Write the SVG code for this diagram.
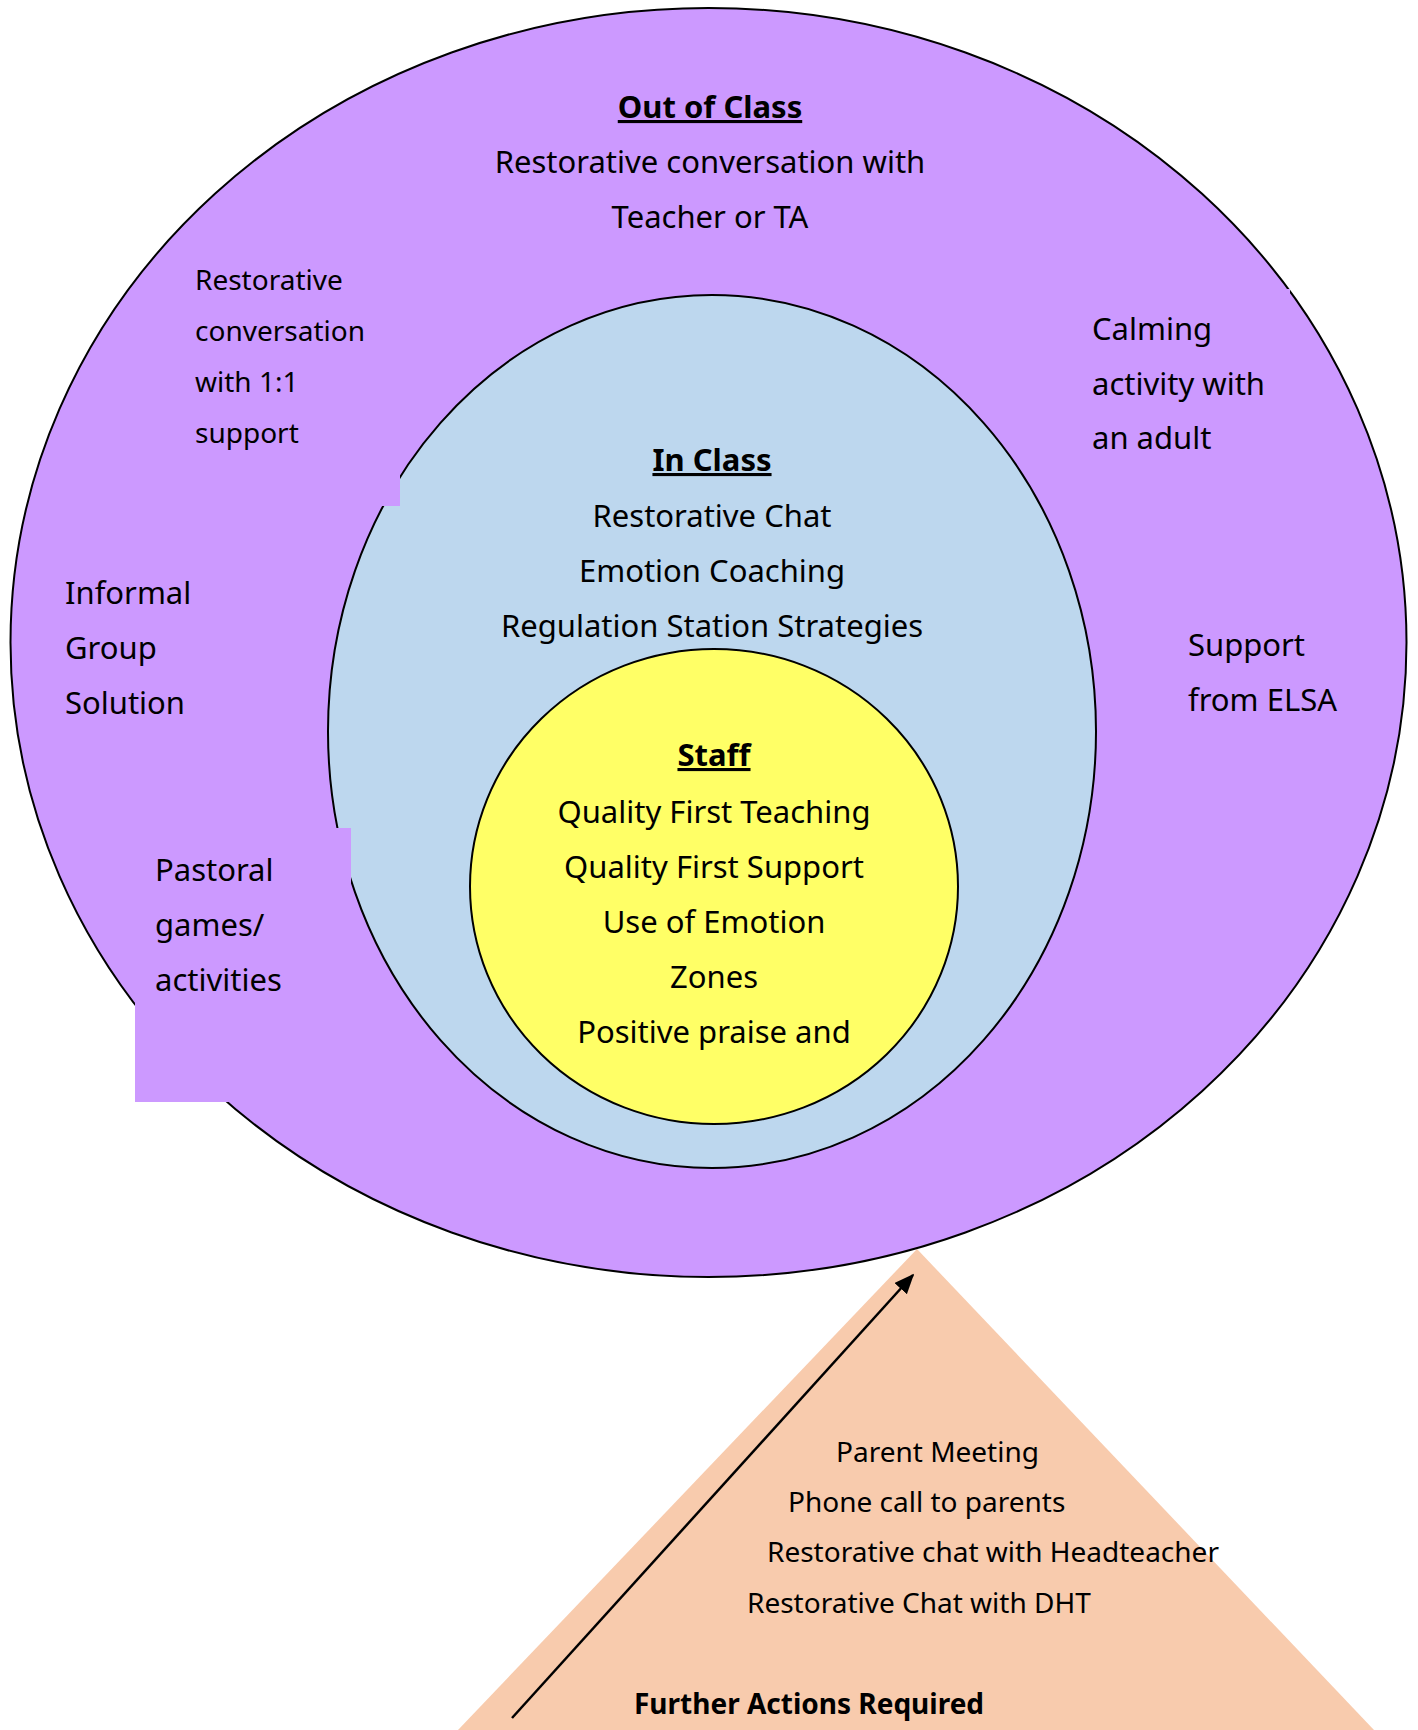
<svg xmlns="http://www.w3.org/2000/svg" width="1418" height="1730" viewBox="0 0 1418 1730">
  <style>
    text { font-family: "Noto Sans", "Open Sans", "Liberation Sans", sans-serif; fill: #000; }
    .t31 { font-size: 31px; }
    .t28 { font-size: 28px; }
    .h { font-size: 31px; font-weight: bold; text-decoration: underline; }
    .c { text-anchor: middle; }
    .b { font-weight: bold; }
    .ring { stroke: #000; stroke-width: 2; }
    .purple { fill: #CC99FF; }
    .blue { fill: #BDD7EE; }
    .yellow { fill: #FFFF66; }
    .peach { fill: #F8CBAD; }
  </style>
  <defs>
    <marker id="arrowhead" viewBox="0 0 12 10" refX="11" refY="5" markerWidth="20" markerHeight="17" markerUnits="userSpaceOnUse" orient="auto">
      <path d="M0,0 L12,5 L0,10 z" fill="#000"/>
    </marker>
  </defs>

  <g id="further-actions">
    <polygon class="peach" points="917,1249 1374,1730 458,1730"/>
  </g>

  <g id="out-of-class">
    <ellipse class="purple ring" cx="708.5" cy="642.5" rx="698" ry="634.5"/>
  </g>

  <g id="in-class">
    <ellipse class="blue ring" cx="712" cy="731.5" rx="384" ry="436.5"/>
  </g>

  <g id="staff">
    <ellipse class="yellow ring" cx="714" cy="886.5" rx="244" ry="237.5"/>
  </g>

  <g id="box-restorative-1to1">
    <rect class="purple" x="185" y="245" width="215" height="261"/>
  </g>
  <g id="box-calming">
    <rect class="purple" x="1080" y="289" width="210" height="180"/>
  </g>
  <g id="box-pastoral">
    <rect class="purple" x="135" y="828" width="216" height="274"/>
  </g>

  <g id="connectors">
    <line x1="512" y1="1718" x2="913" y2="1275" stroke="#000" stroke-width="2.5" marker-end="url(#arrowhead)"/>
  </g>

  <g id="out-of-class-text">
    <text class="h c" x="710" y="118">Out of Class</text>
    <text class="t31 c" x="710" y="173">Restorative conversation with</text>
    <text class="t31 c" x="710" y="228">Teacher or TA</text>
  </g>
  <g id="restorative-1to1-text">
    <text class="t28" x="195" y="290">Restorative</text>
    <text class="t28" x="195" y="341">conversation</text>
    <text class="t28" x="195" y="392">with 1:1</text>
    <text class="t28" x="195" y="443">support</text>
  </g>
  <g id="calming-text">
    <text class="t31" x="1092" y="340">Calming</text>
    <text class="t31" x="1092" y="395">activity with</text>
    <text class="t31" x="1092" y="449">an adult</text>
  </g>
  <g id="informal-text">
    <text class="t31" x="65" y="604">Informal</text>
    <text class="t31" x="65" y="659">Group</text>
    <text class="t31" x="65" y="714">Solution</text>
  </g>
  <g id="elsa-text">
    <text class="t31" x="1188" y="656">Support</text>
    <text class="t31" x="1188" y="711">from ELSA</text>
  </g>
  <g id="pastoral-text">
    <text class="t31" x="155" y="881">Pastoral</text>
    <text class="t31" x="155" y="936">games/</text>
    <text class="t31" x="155" y="991">activities</text>
  </g>
  <g id="in-class-text">
    <text class="h c" x="712" y="471">In Class</text>
    <text class="t31 c" x="712" y="527">Restorative Chat</text>
    <text class="t31 c" x="712" y="582">Emotion Coaching</text>
    <text class="t31 c" x="712" y="637">Regulation Station Strategies</text>
  </g>
  <g id="staff-text">
    <text class="h c" x="714" y="766">Staff</text>
    <text class="t31 c" x="714" y="823">Quality First Teaching</text>
    <text class="t31 c" x="714" y="878">Quality First Support</text>
    <text class="t31 c" x="714" y="933">Use of Emotion</text>
    <text class="t31 c" x="714" y="988">Zones</text>
    <text class="t31 c" x="714" y="1043">Positive praise and</text>
  </g>
  <g id="further-actions-text">
    <text class="t28" x="836" y="1462">Parent Meeting</text>
    <text class="t28" x="788" y="1512">Phone call to parents</text>
    <text class="t28" x="767" y="1562">Restorative chat with Headteacher</text>
    <text class="t28" x="747" y="1613">Restorative Chat with DHT</text>
    <text class="t28 b" x="634" y="1714">Further Actions Required</text>
  </g>
</svg>
